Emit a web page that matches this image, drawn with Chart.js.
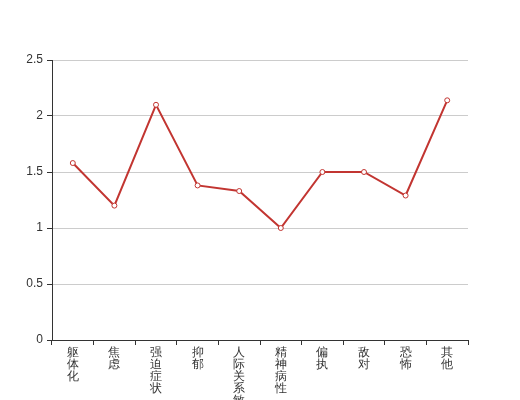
<!DOCTYPE html>
<html>
<head>
<meta charset="utf-8">
<script src="https://cdn.jsdelivr.net/npm/chart.js@4"></script>
<style>
  html, body { margin: 0; padding: 0; background: #fff; }
</style>
</head>
<body>
<canvas id="chart" width="520" height="400"></canvas>
<script>
// categories and mean scores
const categories = ['躯体化', '焦虑', '强迫症状', '抑郁', '人际关系敏感', '精神病性', '偏执', '敌对', '恐怖', '其他'];
const scores = [1.58, 1.2, 2.1, 1.38, 1.33, 1.0, 1.5, 1.5, 1.29, 2.14];
const yRange = [0, 2.5];
const yStep = 0.5;

const LINE_COLOR = '#c23531';
const AXIS_COLOR = '#333';

Chart.defaults.font.family = "sans-serif";
Chart.defaults.font.size = 12;
Chart.defaults.color = '#333';

new Chart(document.getElementById('chart'), {
  type: 'line',
  data: {
    // vertical labels: one character per line
    labels: categories.map(c => c.split('')),
    datasets: [{
      data: scores,
      borderColor: LINE_COLOR,
      borderWidth: 2,
      backgroundColor: '#fff',
      pointBackgroundColor: '#fff',
      pointBorderColor: LINE_COLOR,
      pointBorderWidth: 1,
      pointRadius: 2.5,
      tension: 0
    }]
  },
  options: {
    responsive: false,
    animation: false,
    layout: { padding: { top: 60, right: 52, left: 0, bottom: 0 } },
    plugins: { legend: { display: false }, tooltip: { enabled: false } },
    scales: {
      x: {
        offset: true,
        grid: {
          offset: true,
          drawOnChartArea: false,
          tickLength: 5,
          tickColor: AXIS_COLOR
        },
        border: { color: AXIS_COLOR, width: 1 },
        ticks: {
          maxRotation: 0,
          minRotation: 0,
          autoSkip: false,
          padding: 2,
          font: { size: 12, lineHeight: 1 }
        },
        afterFit: s => { s.height = 60; }
      },
      y: {
        min: yRange[0],
        max: yRange[1],
        grid: {
          color: '#ccc',
          tickLength: 5,
          tickColor: AXIS_COLOR
        },
        border: { color: AXIS_COLOR, width: 1 },
        ticks: { stepSize: yStep, padding: 4, callback: v => String(v) },
        afterFit: s => { s.width = 52; }
      }
    }
  }
});
</script>
</body>
</html>
